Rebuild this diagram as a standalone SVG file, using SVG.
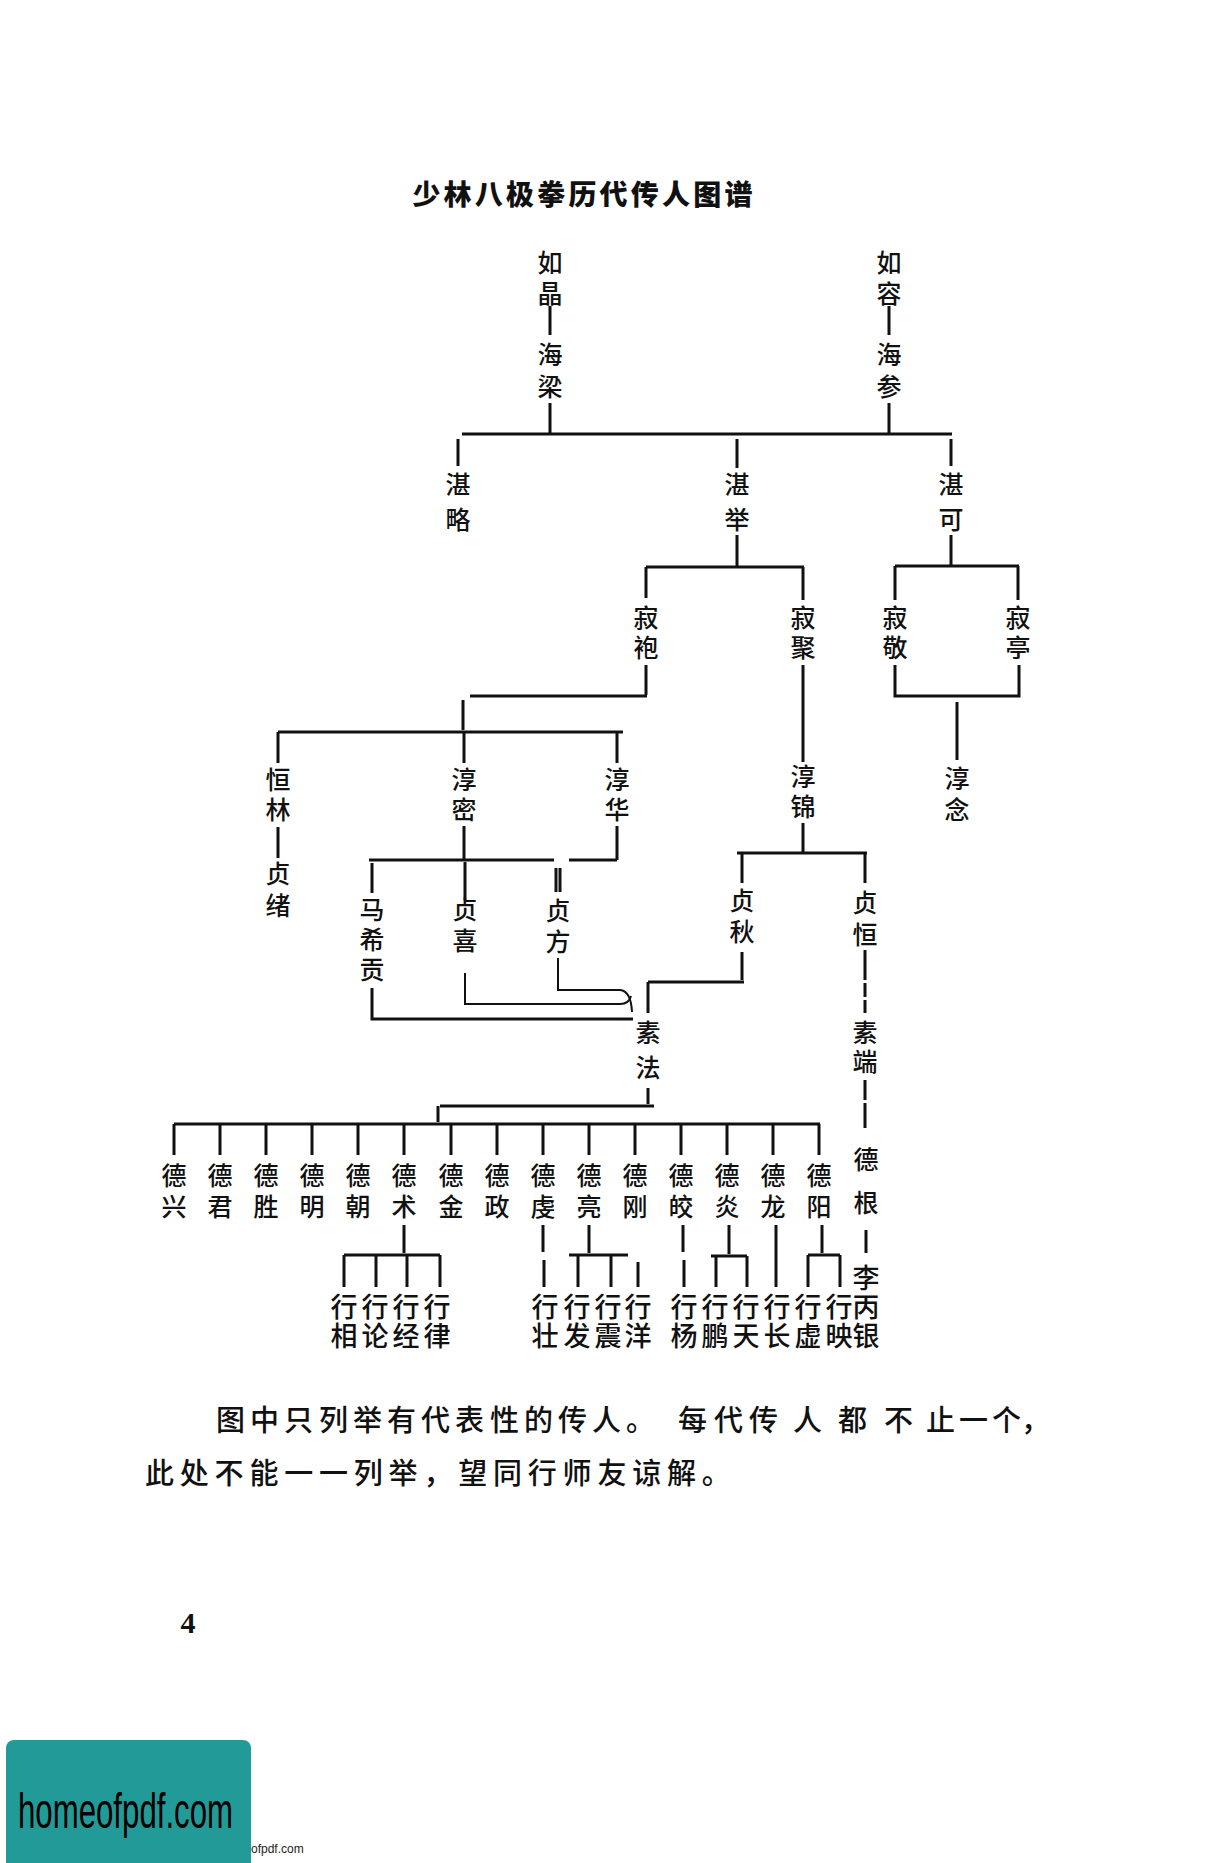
<svg xmlns="http://www.w3.org/2000/svg" width="1226" height="1863" viewBox="0 0 1226 1863">
<style>
.t{font-family:"Noto Sans CJK SC","Noto Sans CJK TC",sans-serif;font-size:25px;font-weight:500;fill:#111;text-anchor:middle}
.b{font-size:27px}
.ttl{font-family:"Noto Sans CJK SC",sans-serif;font-size:28px;font-weight:900;fill:#111;text-anchor:middle;letter-spacing:3.2px}
.p{font-family:"Noto Sans CJK SC",sans-serif;font-size:29px;font-weight:500;fill:#111}
.c path{fill:none;stroke:#111;stroke-width:3;stroke-linecap:butt}
.c path.thin{stroke-width:2}
</style>
<rect width="1226" height="1863" fill="#fff"/>
<text class="ttl" x="584" y="205">少林八极拳历代传人图谱</text>

<g class="c" id="connectors">
<path d="M550 306V335M550 403V434M889 306V335M889 403V434M462 434H952"/>
<path d="M458 439V466M737 439V468M951 439V466M737 535V567M951 535V566"/>
<path d="M646 567H804M646 567V598M803 567V600M646 665V695M470 696H647"/>
<path d="M803 665V762M803 823V853"/>
<path d="M895 566H1019M895 566V600M1018 566V600M895 665V696H1019V665M957 702V760"/>
<path d="M463 700V730M278 732H623M278 732V763M464 732V763M617 732V763"/>
<path d="M278 827V858M464 826V860M617 826V860M369 860H554M569 860H617"/>
<path d="M372 863V893M465 862V900M556 868V892M560 868V892"/>
<path d="M372 988V1019H633"/>
<path class="thin" d="M465 973V1004H620Q629 1004 631 996"/>
<path class="thin" d="M558 958V990H620Q631 991 632 1012"/>
<path d="M737 853H867M742 853V883M865 853V883M742 952V980M648 982H744M648 982V1013"/>
<path d="M648 1088V1104M440 1106H654M438 1106V1122M174 1124H820"/>
<path d="M174 1124V1155M220 1124V1155M266 1124V1155M312 1124V1155M358 1124V1155M404 1124V1155M451 1124V1155M497 1124V1155M543 1124V1155M589 1124V1155M635 1124V1155M681 1124V1155M727 1124V1155M773 1124V1155M819 1124V1155"/>
<path d="M865 950V980M865 983V997M865 1000V1013M865 1080V1100M865 1103V1128M866 1230V1253"/>
<path d="M404 1225V1253M344 1255H440M344 1255V1287M376 1255V1287M407 1255V1287M440 1255V1287"/>
<path d="M543 1225V1252M544 1260V1287"/>
<path d="M589 1225V1253M569 1255H628M578 1255V1287M611 1255V1287M638 1262V1287"/>
<path d="M683 1225V1252M684 1260V1287"/>
<path d="M729 1225V1254M711 1256H747M716 1256V1287M747 1256V1287"/>
<path d="M776 1225V1287"/>
<path d="M822 1225V1253M808 1255H840M808 1255V1287M840 1255V1287"/>
</g>

<g id="ruyun"><text class="t" x="550 550 550 550" y="272 303 364 396">如晶海梁</text></g>
<g id="rurong"><text class="t" x="889 889 889 889" y="272 303 364 396">如容海参</text></g>
<g id="zhanlue"><text class="t" x="458 458" y="494 529">湛略</text></g>
<g id="zhanju"><text class="t" x="737 737" y="494 529">湛举</text></g>
<g id="zhanke"><text class="t" x="951 951" y="494 529">湛可</text></g>
<g id="jipao"><text class="t" x="646 646" y="627 657">寂袍</text></g>
<g id="jiju"><text class="t" x="803 803" y="627 657">寂聚</text></g>
<g id="jijing"><text class="t" x="895 895" y="627 657">寂敬</text></g>
<g id="jiting"><text class="t" x="1018 1018" y="627 657">寂亭</text></g>
<g id="chunjin"><text class="t" x="803 803" y="786 816">淳锦</text></g>
<g id="chunnian"><text class="t" x="957 957" y="788 819">淳念</text></g>
<g id="henglin"><text class="t" x="278 278 278 278" y="789 819 883 915">恒林贞绪</text></g>
<g id="chunmi"><text class="t" x="464 464" y="789 819">淳密</text></g>
<g id="chunhua"><text class="t" x="617 617" y="789 819">淳华</text></g>
<g id="maxigong"><text class="t" x="372 372 372" y="919 949 979">马希贡</text></g>
<g id="zhenxi"><text class="t" x="465 465" y="919 950">贞喜</text></g>
<g id="zhenfang"><text class="t" x="558 558" y="920 951">贞方</text></g>
<g id="zhenqiu"><text class="t" x="742 742" y="910 941">贞秋</text></g>
<g id="zhenheng"><text class="t" x="865 865 865 865" y="912 944 1042 1071">贞恒素端</text></g>
<g id="sufa"><text class="t" x="648 648" y="1042 1077">素法</text></g>
<g id="degen"><text class="t" x="866 866" y="1169 1212">德根</text><text class="t b" x="866 866 866" y="1288 1317 1346">李丙银</text></g>

<g id="de-row">
<text class="t" x="174 174" y="1185 1216">德兴</text>
<text class="t" x="220 220" y="1185 1216">德君</text>
<text class="t" x="266 266" y="1185 1216">德胜</text>
<text class="t" x="312 312" y="1185 1216">德明</text>
<text class="t" x="358 358" y="1185 1216">德朝</text>
<text class="t" x="404 404" y="1185 1216">德术</text>
<text class="t" x="451 451" y="1185 1216">德金</text>
<text class="t" x="497 497" y="1185 1216">德政</text>
<text class="t" x="543 543" y="1185 1216">德虔</text>
<text class="t" x="589 589" y="1185 1216">德亮</text>
<text class="t" x="635 635" y="1185 1216">德刚</text>
<text class="t" x="681 681" y="1185 1216">德皎</text>
<text class="t" x="727 727" y="1185 1216">德炎</text>
<text class="t" x="773 773" y="1185 1216">德龙</text>
<text class="t" x="819 819" y="1185 1216">德阳</text>
</g>

<g id="xing-row">
<text class="t b" x="344 344" y="1317 1346">行相</text>
<text class="t b" x="375 375" y="1317 1346">行论</text>
<text class="t b" x="406 406" y="1317 1346">行经</text>
<text class="t b" x="437 437" y="1317 1346">行律</text>
<text class="t b" x="545 545" y="1317 1346">行壮</text>
<text class="t b" x="577 577" y="1317 1346">行发</text>
<text class="t b" x="608 608" y="1317 1346">行震</text>
<text class="t b" x="638 638" y="1317 1346">行洋</text>
<text class="t b" x="684 684" y="1317 1346">行杨</text>
<text class="t b" x="715 715" y="1317 1346">行鹏</text>
<text class="t b" x="746 746" y="1317 1346">行天</text>
<text class="t b" x="777 777" y="1317 1346">行长</text>
<text class="t b" x="808 808" y="1317 1346">行虚</text>
<text class="t b" x="839 839" y="1317 1346">行映</text>
</g>

<text class="p" x="216 250 284 319 353 387 421 455 490 524 558 592 626 678 714 749 793 838 884 926 959 992 1021" y="1431">图中只列举有代表性的传人。每代传人都不止一个，</text>
<text class="p" x="145" y="1484" letter-spacing="5.8">此处不能一一列举，望同行师友谅解。</text>

<text x="188" y="1633" font-family="Liberation Serif" font-size="30" font-weight="bold" text-anchor="middle" fill="#111">4</text>

<rect x="6" y="1740" width="245" height="140" rx="8" fill="#229b98"/>
<text x="18" y="1828" font-family="Liberation Sans" font-size="50" textLength="215" lengthAdjust="spacingAndGlyphs" fill="#000">homeofpdf.com</text>
<text x="251" y="1853" font-family="Liberation Sans" font-size="12" fill="#222">ofpdf.com</text>
</svg>
